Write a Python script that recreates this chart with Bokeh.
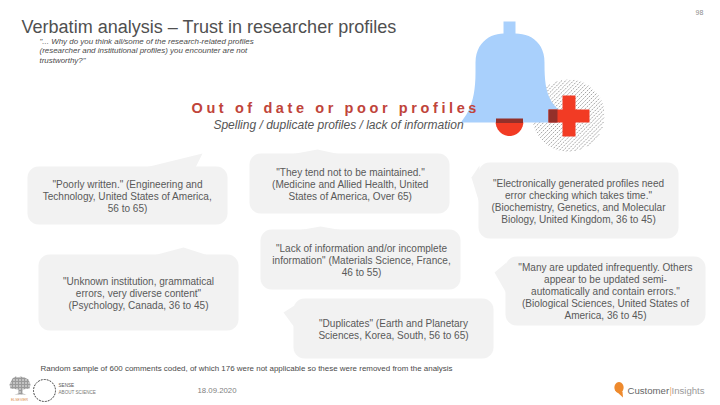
import numpy as np
from bokeh.plotting import figure
from bokeh.models import Range1d, CustomJS
from bokeh.core.properties import value
from bokeh.events import DocumentReady
from bokeh.io import curdoc
from bokeh.embed import file_html
from bokeh.resources import INLINE

# ---- slide content ----
title = "Verbatim analysis \u2013 Trust in researcher profiles"
question_lines = ["\"... Why do you think all/some of the research-related profiles",
                  "(researcher and institutional profiles) you encounter are not",
                  "trustworthy?\""]
heading = "Out of date or poor profiles"
subheading = "Spelling / duplicate profiles / lack of information"
quote_poorly = ["\"Poorly written.\" (Engineering and", "Technology, United States of America,", "56 to 65)"]
quote_unknown = ["\"Unknown institution, grammatical", "errors, very diverse content\"", "(Psychology, Canada, 36 to 45)"]
quote_maintained = ["\"They tend not to be maintained.\"", "(Medicine and Allied Health, United", "States of America, Over 65)"]
quote_lack = ["\"Lack of information and/or incomplete", "information\" (Materials Science, France,", "46 to 55)"]
quote_duplicates = ["\"Duplicates\" (Earth and Planetary", "Sciences, Korea, South, 56 to 65)"]
quote_electronic = ["\"Electronically generated profiles need", "error checking which takes time.\"",
                    "(Biochemistry, Genetics, and Molecular", "Biology, United Kingdom, 36 to 45)"]
quote_many = ["\"Many are updated infrequently. Others", "appear to be updated semi-",
              "automatically and contain errors.\"", "(Biological Sciences, United States of", "America, 36 to 45)"]
footnote = "Random sample of 600 comments coded, of which 176 were not applicable so these were removed from the analysis"
date_label = "18.09.2020"
page_number = "98"

# ---- layout (reference pixels) ----
GREY = "#595959"
BUB = "#F2F2F2"
p = figure(width=720, height=405, output_backend="svg", toolbar_location=None,
           x_range=Range1d(0, 720), y_range=Range1d(405, 0), min_border=0,
           outline_line_color=None, background_fill_color="white")
p.axis.visible = False
p.grid.visible = False

def rounded(x0, y0, x1, y1, r=11, n=8):
    xs, ys = [], []
    for cx, cy, a0 in [(x1-r, y0+r, -90), (x1-r, y1-r, 0), (x0+r, y1-r, 90), (x0+r, y0+r, 180)]:
        for a in np.linspace(a0, a0+90, n):
            xs.append(cx + r*np.cos(np.radians(a)))
            ys.append(cy + r*np.sin(np.radians(a)))
    return xs, ys

# bubble: box, tail triangle
bubbles = [
    ((27, 166, 227, 224), [(145, 167), (202, 153), (195, 167)]),
    ((38, 254, 238, 330), [(153, 255), (183, 247), (208, 255)]),
    ((249, 153, 449, 213), [(290, 154), (317, 149), (340, 154)]),
    ((260, 229, 460, 289), [(297, 230), (320, 226), (343, 230)]),
    ((293, 298, 493, 358), [(294, 305), (283, 312), (294, 327)]),
    ((478, 162, 678, 238), [(479, 165), (471, 177), (479, 203)]),
    ((505, 256, 705, 325), [(506, 262), (494, 272), (506, 293)]),
]
for box, tail in bubbles:
    xs, ys = rounded(*box)
    p.patch(xs, ys, fill_color=BUB, line_color=None)
    p.patch([t[0] for t in tail], [t[1] for t in tail], fill_color=BUB, line_color=None)

def bez(p0, p1, p2, p3, n=14):
    t = np.linspace(0, 1, n)[:, None]
    a = np.array
    return (1-t)**3*a(p0) + 3*(1-t)**2*t*a(p1) + 3*(1-t)*t**2*a(p2) + t**3*a(p3)

# hatched disc
cx, cy, R = 568, 115, 36
segs_x, segs_y = [], []
for c in np.arange(-R + 1, R, 2.8):
    half = np.sqrt(R**2 - c**2)
    segs_x.append([cx + c*0.707 - half*0.707, cx + c*0.707 + half*0.707])
    segs_y.append([cy + c*0.707 + half*0.707, cy + c*0.707 - half*0.707])
hatch = p.multi_line(segs_x, segs_y, line_color="#8A8A8A", line_width=0.8)
hatch.glyph.line_dash = [2, 1]

# bell
left = np.vstack([bez((461, 121), (468, 112), (475, 100), (475, 72)),
                  bez((475, 62), (475, 42), (490, 33), (503, 33))])
right = np.vstack([bez((515, 33), (530, 33), (544, 42), (544, 62)),
                   bez((544, 64), (544, 90), (548, 100), (558, 109))])
bx = [*left[:, 0], 503, 503, 515, 515, *right[:, 0], 558, 461]
by = [*left[:, 1], 33, 21, 21, 33, *right[:, 1], 122, 122]
p.patch(bx, by, fill_color="#A9D0FC", line_color=None)
# clapper
arc = bez((495, 122), (497, 140), (521, 140), (523, 122))
p.patch(arc[:, 0], arc[:, 1], fill_color="#F23B24", line_color=None)
p.quad(left=[495.5], right=[522.5], top=[118], bottom=[122.5], fill_color="#93302A", line_color=None)
# cross
p.quad(left=[562], right=[575], top=[95], bottom=[136], fill_color="#F23B24", line_color=None)
p.quad(left=[548], right=[589], top=[109], bottom=[122], fill_color="#F23B24", line_color=None)
p.quad(left=[548], right=[557], top=[109], bottom=[122], fill_color="#93302A", line_color=None)

def txt(x, y, s, size, color=GREY, align="left", style="normal", font="Liberation Sans"):
    p.text([x], [y], text=[s], text_font=value(font), text_font_size=value(f"{size}px"), text_color=color,
           text_align=align, text_baseline="middle", text_font_style=style)

txt(21, 26, title, 18.05, "#505050")
for y, s in zip((40.5, 50, 60), question_lines):
    txt(39, y, s, 7.95, "#4A4A4A", style="italic")
txt(191, 107, heading, 14.5, "#C0443A", style="bold")
txt(338, 124, subheading, 12.0, "#555555", align="center", style="italic")

def block(xc, ys, lines, size=10.05):
    for y, s in zip(ys, lines):
        txt(xc, y, s, size, "#595959", align="center")

block(127, (184, 196, 207.5), quote_poorly)
block(138, (281, 293, 305), quote_unknown)
block(350, (172, 184, 196), quote_maintained)
block(361, (248, 260, 272), quote_lack)
block(393, (322.5, 334.5), quote_duplicates)
block(578, (183, 195, 207, 219), quote_electronic)
block(605, (267, 279, 291, 303, 315), quote_many)

txt(40, 367.5, footnote, 7.96, "#4A4A4A")
txt(197, 390, date_label, 7.8, "#7F7F7F")
txt(695, 12, page_number, 7, "#8C8C8C")

# logos
p.patch([9, 12, 15, 18, 20, 24, 28, 30, 29, 22, 22, 26, 14, 18, 18, 10],
        [384, 378, 376, 377, 376, 377, 379, 384, 388, 389, 393, 394, 394, 393, 389, 388],
        fill_color="#9A9A9A", line_color=None, hatch_pattern="dot", hatch_color="white", hatch_scale=3)
txt(19, 399, "ELSEVIER", 3.5, "#D98A4A", align="center")
t = np.radians(np.arange(0, 360, 6))
p.line(44 + 11*np.cos(t), 390 + 11*np.sin(t), line_color="#444444", line_width=1, line_dash=[2, 1])
txt(58, 385, "SENSE", 4.6, "#555555")
txt(58, 392, "ABOUT SCIENCE", 4.6, "#777777")
# balloon
bal = np.radians(np.arange(0, 360, 15))
p.patch(618.5 + 4.6*np.cos(bal), 387 + 5.4*np.sin(bal), fill_color="#EE8A2D", line_color=None)
p.patch([616, 622, 622.5], [391, 391, 397], fill_color="#EE8A2D", line_color=None)
txt(627, 390, "Customer", 9.6, "#666666")
txt(669, 390, "|", 9.6, "#F0B070")
txt(671, 390, "Insights", 9.6, "#9A9A9A")

# the heading is letter-spaced in the reference
js = """
function walk(root){
  root.querySelectorAll('*').forEach(function(el){
    if(el.shadowRoot) walk(el.shadowRoot);
    if(el.tagName.toLowerCase()==='text' && el.textContent===txt) el.setAttribute('letter-spacing','3.6px');
  });
}
setTimeout(function(){walk(document);},200);
setTimeout(function(){walk(document);},800);
"""
curdoc().add_root(p)
curdoc().js_on_event(DocumentReady, CustomJS(args=dict(txt=heading), code=js))
open("out.html", "w").write(file_html(p, INLINE))
